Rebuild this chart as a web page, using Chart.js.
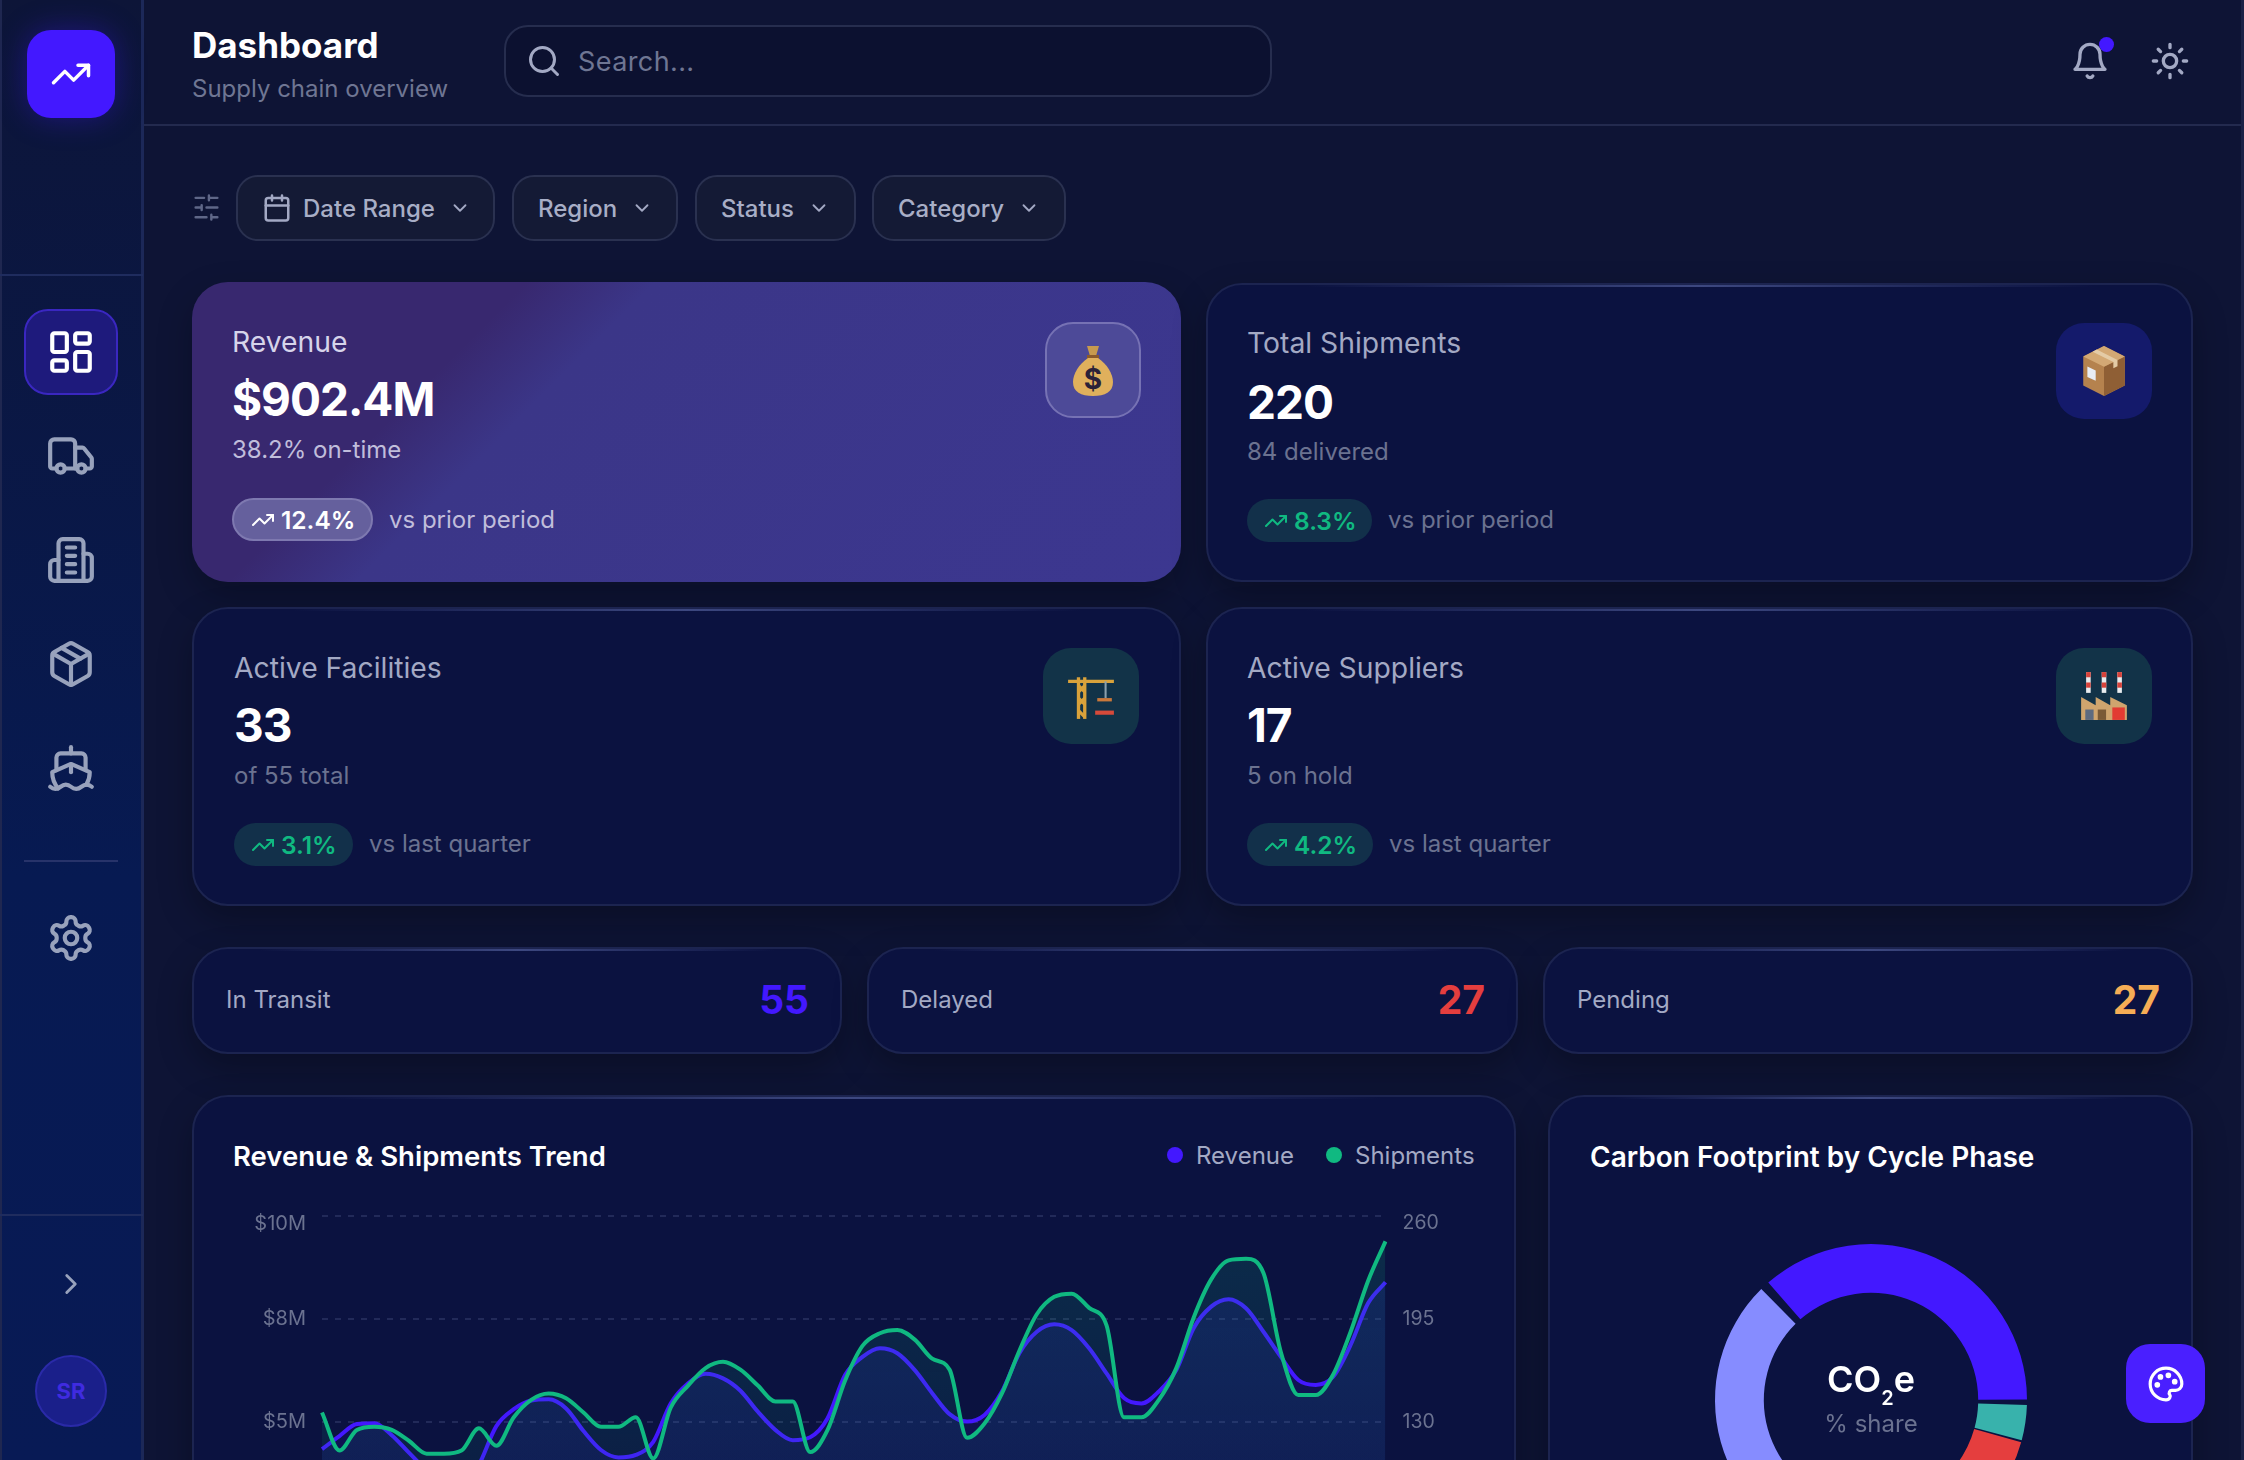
<!DOCTYPE html>
<html>
<head>
<meta charset="utf-8">
<title>Dashboard</title>
<script src="https://cdn.jsdelivr.net/npm/chart.js@4"></script>
<style>
html, body { margin: 0; width: 2244px; height: 1460px; overflow: hidden; background: #0e1435; font-family: Inter, sans-serif; }
.abs { position: absolute; box-sizing: border-box; }
.t { position: absolute; line-height: 1; white-space: nowrap; transform: translateY(-50%); }
.card { position: absolute; box-sizing: border-box; background: #0b1240; border: 2px solid #1c2450; border-radius: 36px; box-shadow: 0 14px 34px rgba(0,0,0,.28); overflow: hidden; }
.card::before { content: ""; position: absolute; left: 10%; right: 10%; top: -1px; height: 3px; background: linear-gradient(90deg, transparent, #3d4880, transparent); }
.label { font-size: 28.3px; color: #a3a9c4; font-weight: 400; }
.value { font-size: 46px; color: #fff; font-weight: 700; letter-spacing: -1px; }
.sub { font-size: 24px; color: #6b7290; }
.vs { font-size: 24px; color: #6b7290; }
.pill { position: absolute; box-sizing: border-box; height: 43px; border-radius: 22px; background: #12304a; color: #10b981; font-size: 24.5px; font-weight: 600; display: flex; align-items: center; padding-left: 17px; gap: 6px; }
.iconbox { position: absolute; box-sizing: border-box; width: 96px; height: 96px; border-radius: 28px; display: flex; align-items: center; justify-content: center; }
.filter { position: absolute; box-sizing: border-box; top: 175px; height: 66px; background: #141a35; border: 2px solid #2a3150; border-radius: 22px; color: #a8aec6; font-size: 24px; font-weight: 500; display: flex; align-items: center; }
.stat { font-size: 24px; color: #a3a9c4; }
.num { font-size: 39px; font-weight: 700; }
.ctitle { font-size: 28px; color: #fff; font-weight: 600; }
.leg { font-size: 24px; color: #a3a9c4; }
.ic { position: absolute; display: block; fill: none; stroke-linecap: round; stroke-linejoin: round; stroke-width: 2; }
.inl { display: block; fill: none; stroke-linecap: round; stroke-linejoin: round; stroke-width: 2; flex: none; }
</style>
</head>
<body>
<!-- sidebar -->
<div class="abs" style="left:0;top:0;width:144px;height:1460px;background:linear-gradient(180deg,#0d1538 0%,#071a52 60%,#081a55 100%);border-right:3px solid #1c2858;border-left:2px solid #1f2750"></div>
<div class="abs" style="left:0;top:274px;width:143px;height:2px;background:#1f2c5e"></div>
<div class="abs" style="left:0;top:1214px;width:143px;height:2px;background:#1f2c5e"></div>
<div class="abs" style="left:24px;top:860px;width:94px;height:2px;background:#27336a"></div>
<div class="abs" style="left:27px;top:30px;width:88px;height:88px;border-radius:24px;background:#4318ff;box-shadow:0 0 30px rgba(67,24,255,.35)"></div>
<svg class="ic" data-i="trend" style="left:50px;top:53px;width:42px;height:42px;stroke:#fff"></svg>
<div class="abs" style="left:24px;top:309px;width:94px;height:86px;border-radius:24px;background:#1e1a7c;border:2px solid #3a27c0"></div>
<svg class="ic" data-i="grid" style="left:46px;top:327px;width:50px;height:50px;stroke:#fff"></svg>
<svg class="ic" data-i="truck" style="left:46px;top:431px;width:50px;height:50px;stroke:#98a2bc"></svg>
<svg class="ic" data-i="building" style="left:46px;top:535px;width:50px;height:50px;stroke:#98a2bc"></svg>
<svg class="ic" data-i="package" style="left:46px;top:639px;width:50px;height:50px;stroke:#98a2bc"></svg>
<svg class="ic" data-i="ship" style="left:46px;top:743px;width:50px;height:50px;stroke:#98a2bc"></svg>
<svg class="ic" data-i="gear" style="left:46px;top:913px;width:50px;height:50px;stroke:#98a2bc"></svg>
<svg class="ic" data-i="right" style="left:54px;top:1267px;width:34px;height:34px;stroke:#98a2bc"></svg>
<div class="abs" style="left:35px;top:1355px;width:72px;height:72px;border-radius:50%;background:#1a1f8a;border:2px solid #2a2aa8;color:#3f2be0;font-size:22px;font-weight:700;display:flex;align-items:center;justify-content:center">SR</div>

<!-- header -->
<div class="abs" style="left:144px;top:124px;width:2100px;height:2px;background:#232a4e"></div>
<div class="abs" style="left:2241px;top:0;width:3px;height:1460px;background:#1b2145"></div>
<div class="t" style="left:192px;top:45px;font-size:35px;font-weight:700;color:#fff">Dashboard</div>
<div class="t" style="left:192px;top:89px;font-size:24px;color:#6f7693">Supply chain overview</div>
<div class="abs" style="left:504px;top:25px;width:768px;height:72px;border-radius:24px;background:#0c1130;border:2px solid #262d4e"></div>
<svg class="ic" data-i="search" style="left:526px;top:43px;width:36px;height:36px;stroke:#a3a9c4"></svg>
<div class="t" style="left:578px;top:61px;font-size:27px;color:#6f7693;letter-spacing:.4px">Search...</div>
<svg class="ic" data-i="bell" style="left:2070px;top:41px;width:40px;height:40px;stroke:#a3a9c4"></svg>
<div class="abs" style="left:2099px;top:37px;width:15px;height:15px;border-radius:50%;background:#4318ff"></div>
<svg class="ic" data-i="sun" style="left:2150px;top:41px;width:40px;height:40px;stroke:#a3a9c4"></svg>

<!-- filters -->
<svg class="ic" data-i="sliders" style="left:192px;top:193px;width:29px;height:29px;stroke:#5f6788"></svg>
<div class="filter" style="left:236px;width:259px"><svg class="inl" data-i="cal" style="width:30px;height:30px;margin:0 11px 0 24px;stroke:#a3a9c4"></svg>Date Range<svg class="inl" data-i="down" style="width:22px;height:22px;margin-left:14px;stroke:#a3a9c4"></svg></div>
<div class="filter" style="left:512px;width:166px;padding-left:24px">Region<svg class="inl" data-i="down" style="width:22px;height:22px;margin-left:14px;stroke:#a3a9c4"></svg></div>
<div class="filter" style="left:695px;width:161px;padding-left:24px">Status<svg class="inl" data-i="down" style="width:22px;height:22px;margin-left:14px;stroke:#a3a9c4"></svg></div>
<div class="filter" style="left:872px;width:194px;padding-left:24px">Category<svg class="inl" data-i="down" style="width:22px;height:22px;margin-left:14px;stroke:#a3a9c4"></svg></div>

<!-- revenue card -->
<div class="abs" style="left:192px;top:282px;width:989px;height:300px;border-radius:36px;overflow:hidden;background:linear-gradient(135deg,#38286f 0%,#38286f 26%,#3b3688 36%,#3c3790 100%);box-shadow:0 14px 34px rgba(0,0,0,.25)"></div>
<div class="t" style="left:232px;top:342px;font-size:28.3px;color:#d6d4ea">Revenue</div>
<div class="t" style="left:232px;top:399px;font-size:46px;font-weight:700;color:#fff;letter-spacing:-1px">$902.4M</div>
<div class="t" style="left:232px;top:450px;font-size:24px;color:#c0bddb">38.2% on-time</div>
<div class="pill" style="left:232px;top:498px;width:141px;background:#65609d;border:2px solid #7e79b0;color:#fff"><svg class="inl" data-i="trend" style="width:24px;height:24px;stroke:#fff"></svg>12.4%</div>
<div class="t" style="left:389px;top:520px;font-size:24px;color:#c0bddb">vs prior period</div>
<div class="iconbox" style="left:1045px;top:322px;background:#4d4a98;border:2px solid #7672b4">
<svg width="48" height="56" viewBox="0 0 24 28"><path d="M9 2h6l-1.5 5h-3z" fill="#c79a4e"/><rect x="9" y="6.5" width="6" height="2" fill="#8a5a2b"/><path d="M9.5 8C5 11 2 16 2 20c0 5 4 7 10 7s10-2 10-7c0-4-3-9-7.5-12z" fill="#e0b05c"/><text x="12" y="23.5" font-size="14" font-weight="700" text-anchor="middle" fill="#2b2238" font-family="Inter">$</text></svg></div>

<!-- shipments card -->
<div class="card" style="left:1206px;top:283px;width:987px;height:299px"></div>
<div class="t label" style="left:1247px;top:343px">Total Shipments</div>
<div class="t value" style="left:1247px;top:402px">220</div>
<div class="t sub" style="left:1247px;top:452px">84 delivered</div>
<div class="pill" style="left:1247px;top:499px;width:125px"><svg class="inl" data-i="trend" style="width:24px;height:24px;stroke:#10b981"></svg>8.3%</div>
<div class="t vs" style="left:1388px;top:520px">vs prior period</div>
<div class="iconbox" style="left:2056px;top:323px;background:#141a6b">
<svg width="50" height="54" viewBox="0 0 24 26"><path d="M12 1l10 5v14l-10 5-10-5V6z" fill="#b5824e"/><path d="M12 11v14l10-5V6z" fill="#8f5f35"/><path d="M2 6l10 5 10-5-10-5z" fill="#d3a874"/><path d="M6.5 3.7l10 5v3l2-1v-3l-10-5z" fill="#e4cba6"/><rect x="4" y="11" width="4" height="5" fill="#e8edf5" transform="skewY(25) translate(0,-2)"/></svg></div>

<!-- facilities card -->
<div class="card" style="left:192px;top:607px;width:989px;height:299px"></div>
<div class="t label" style="left:234px;top:668px">Active Facilities</div>
<div class="t value" style="left:234px;top:725px">33</div>
<div class="t sub" style="left:234px;top:776px">of 55 total</div>
<div class="pill" style="left:234px;top:823px;width:119px"><svg class="inl" data-i="trend" style="width:24px;height:24px;stroke:#10b981"></svg>3.1%</div>
<div class="t vs" style="left:369px;top:844px">vs last quarter</div>
<div class="iconbox" style="left:1043px;top:648px;background:#123348">
<svg width="50" height="50" viewBox="0 0 24 24"><g stroke="#d9a23b" stroke-width="1.6" fill="none"><path d="M6 23V3"/><path d="M9 23V3"/><path d="M6 7l3 3M9 7l-3 3M6 13l3 3M9 13l-3 3M6 19l3 3"/><path d="M1 5h22"/></g><path d="M14 19h9v2h-9z" fill="#d64a3a"/><path d="M19 5v8" stroke="#8ba0ad" stroke-width="1"/><rect x="15" y="13" width="7" height="1.6" fill="#c9783b"/></svg></div>

<!-- suppliers card -->
<div class="card" style="left:1206px;top:607px;width:987px;height:299px"></div>
<div class="t label" style="left:1247px;top:668px">Active Suppliers</div>
<div class="t value" style="left:1247px;top:725px">17</div>
<div class="t sub" style="left:1247px;top:776px">5 on hold</div>
<div class="pill" style="left:1247px;top:823px;width:126px"><svg class="inl" data-i="trend" style="width:24px;height:24px;stroke:#10b981"></svg>4.2%</div>
<div class="t vs" style="left:1389px;top:844px">vs last quarter</div>
<div class="iconbox" style="left:2056px;top:648px;background:#123348">
<svg width="50" height="52" viewBox="0 0 24 25"><g fill="#e8ecef"><rect x="3.4" y="1" width="2.2" height="10"/><rect x="10.9" y="1" width="2.2" height="10"/><rect x="18.4" y="1" width="2.2" height="10"/></g><g fill="#d8433b"><rect x="3.4" y="1" width="2.2" height="2.5"/><rect x="10.9" y="1" width="2.2" height="2.5"/><rect x="18.4" y="1" width="2.2" height="2.5"/><rect x="3.4" y="6" width="2.2" height="2.5"/><rect x="10.9" y="6" width="2.2" height="2.5"/><rect x="18.4" y="6" width="2.2" height="2.5"/></g><path d="M1 24V13l7 4v-4l7 4v-4l8 4v7z" fill="#cfa56e"/><rect x="16" y="18" width="6" height="6" fill="#e23b32"/><rect x="3" y="19" width="4" height="5" fill="#5d6b80"/><rect x="9" y="19" width="4" height="5" fill="#7a5a36"/></svg></div>

<!-- status row -->
<div class="card" style="left:192px;top:947px;width:650px;height:107px"></div>
<div class="t stat" style="left:226px;top:1000px">In Transit</div>
<div class="t num" style="right:1435px;top:999px;color:#4318ff">55</div>
<div class="card" style="left:867px;top:947px;width:651px;height:107px"></div>
<div class="t stat" style="left:901px;top:1000px">Delayed</div>
<div class="t num" style="right:759px;top:999px;color:#e53e3e">27</div>
<div class="card" style="left:1543px;top:947px;width:650px;height:107px"></div>
<div class="t stat" style="left:1577px;top:1000px">Pending</div>
<div class="t num" style="right:84px;top:999px;color:#f6ad55">27</div>

<!-- trend card -->
<div class="card" style="left:192px;top:1095px;width:1324px;height:640px"></div>
<div class="t ctitle" style="left:233px;top:1157px;font-size:27.5px">Revenue &amp; Shipments Trend</div>
<div class="abs" style="left:1167px;top:1147px;width:16px;height:16px;border-radius:50%;background:#4318ff"></div>
<div class="t leg" style="left:1196px;top:1156px">Revenue</div>
<div class="abs" style="left:1326px;top:1147px;width:16px;height:16px;border-radius:50%;background:#10b981"></div>
<div class="t leg" style="left:1355px;top:1156px">Shipments</div>
<canvas id="trendChart" class="abs" style="left:232px;top:1185px" width="1228" height="483"></canvas>

<!-- carbon card -->
<div class="card" style="left:1548px;top:1095px;width:645px;height:640px"></div>
<div class="t ctitle" style="left:1590px;top:1157px">Carbon Footprint by Cycle Phase</div>
<canvas id="carbonChart" class="abs" style="left:1671px;top:1200px" width="400" height="400"></canvas>
<div class="t" style="left:1871px;top:1379px;transform:translate(-50%,-50%);font-size:36px;font-weight:600;color:#fff">CO<span style="font-size:20px;position:relative;top:13px">2</span>e</div>
<div class="t" style="left:1871px;top:1424px;transform:translate(-50%,-50%);font-size:24px;color:#6b7290">% share</div>

<!-- palette button -->
<div class="abs" style="left:2126px;top:1344px;width:79px;height:79px;border-radius:24px;background:#4a1fff"></div>
<svg class="ic" data-i="palette" style="left:2147px;top:1365px;width:38px;height:38px;stroke:#fff"></svg>

<script>
// chart data
const revenueM = [4.34, 4.66, 4.95, 4.97, 4.68, 4.25, 3.83, 3.54, 3.35, 3.96, 4.90, 5.31, 5.52, 5.55, 5.33, 4.78,
    4.32, 4.14, 4.20, 4.52, 5.45, 5.94, 6.17, 6.06, 5.76, 5.25, 4.81, 4.56, 4.63, 5.09, 6.14, 6.58,
    6.79, 6.67, 6.26, 5.70, 5.19, 5.01, 5.17, 5.74, 6.67, 7.19, 7.37, 7.23, 6.79, 6.18, 5.58, 5.45,
    5.74, 6.26, 7.28, 7.80, 7.98, 7.76, 7.19, 6.58, 6.02, 5.90, 6.10, 6.87, 7.88, 8.39];
const shipments = [136, 112, 125, 127, 125, 118, 110, 110, 112, 126, 115, 133, 144, 148, 145, 136,
    127, 127, 133, 107, 139, 153, 164, 168, 163, 153, 143, 143, 111, 125, 156, 178,
    186, 188, 182, 170, 163, 120, 129, 148, 175, 198, 209, 211, 202, 191, 133, 133,
    144, 164, 196, 220, 232, 233, 224, 174, 147, 147, 160, 187, 219, 244];
const periods = revenueM.map((_, i) => "P" + (i + 1));

const carbonPhases = ["Production", "Logistics", "Disposal", "Packaging", "Raw Materials"];
const carbonShare = [37.4, 3.75, 12, 12, 34.85];
const carbonColors = ["#4318ff", "#38b2ac", "#e53e3e", "#f6ad55", "#868cff"];

// lucide style icon paths
const icons = {
    trend: '<polyline points="22 7 13.5 15.5 8.5 10.5 2 17"/><polyline points="16 7 22 7 22 13"/>',
    grid: '<rect x="3" y="3" width="7" height="9" rx="1"/><rect x="14" y="3" width="7" height="5" rx="1"/><rect x="14" y="12" width="7" height="9" rx="1"/><rect x="3" y="16" width="7" height="5" rx="1"/>',
    truck: '<path d="M14 18V6a2 2 0 0 0-2-2H4a2 2 0 0 0-2 2v11a1 1 0 0 0 1 1h2"/><path d="M15 18H9"/><path d="M19 18h2a1 1 0 0 0 1-1v-3.65a1 1 0 0 0-.22-.624l-3.48-4.35A1 1 0 0 0 17.52 8H14"/><circle cx="17" cy="18" r="2"/><circle cx="7" cy="18" r="2"/>',
    building: '<path d="M6 22V4a2 2 0 0 1 2-2h8a2 2 0 0 1 2 2v18z"/><path d="M6 12H4a2 2 0 0 0-2 2v6a2 2 0 0 0 2 2h2"/><path d="M18 9h2a2 2 0 0 1 2 2v9a2 2 0 0 1-2 2h-2"/><path d="M10 6h4M10 10h4M10 14h4M10 18h4"/>',
    package: '<path d="M11 21.73a2 2 0 0 0 2 0l7-4A2 2 0 0 0 21 16V8a2 2 0 0 0-1-1.73l-7-4a2 2 0 0 0-2 0l-7 4A2 2 0 0 0 3 8v8a2 2 0 0 0 1 1.73z"/><path d="M12 22V12"/><path d="m3.3 7 8.7 5 8.7-5"/><path d="m7.5 4.27 9 5.15"/>',
    ship: '<path d="M12 10.189V14"/><path d="M12 2v3"/><path d="M19 13V7a2 2 0 0 0-2-2H7a2 2 0 0 0-2 2v6"/><path d="M19.38 20A11.6 11.6 0 0 0 21 14l-8.188-3.639a2 2 0 0 0-1.624 0L3 14a11.6 11.6 0 0 0 2.81 7.76"/><path d="M2 21c.6.5 1.2 1 2.5 1 2.5 0 2.5-2 5-2 1.3 0 1.9.5 2.5 1s1.2 1 2.5 1c2.5 0 2.5-2 5-2 1.3 0 1.9.5 2.5 1"/>',
    gear: '<path d="M12.22 2h-.44a2 2 0 0 0-2 2v.18a2 2 0 0 1-1 1.73l-.43.25a2 2 0 0 1-2 0l-.15-.08a2 2 0 0 0-2.73.73l-.22.38a2 2 0 0 0 .73 2.73l.15.1a2 2 0 0 1 1 1.72v.51a2 2 0 0 1-1 1.74l-.15.09a2 2 0 0 0-.73 2.73l.22.38a2 2 0 0 0 2.73.73l.15-.08a2 2 0 0 1 2 0l.43.25a2 2 0 0 1 1 1.73V20a2 2 0 0 0 2 2h.44a2 2 0 0 0 2-2v-.18a2 2 0 0 1 1-1.73l.43-.25a2 2 0 0 1 2 0l.15.08a2 2 0 0 0 2.73-.73l.22-.39a2 2 0 0 0-.73-2.73l-.15-.08a2 2 0 0 1-1-1.74v-.5a2 2 0 0 1 1-1.74l.15-.09a2 2 0 0 0 .73-2.73l-.22-.38a2 2 0 0 0-2.73-.73l-.15.08a2 2 0 0 1-2 0l-.43-.25a2 2 0 0 1-1-1.73V4a2 2 0 0 0-2-2z"/><circle cx="12" cy="12" r="3"/>',
    right: '<path d="m9 18 6-6-6-6"/>',
    down: '<path d="m6 9 6 6 6-6"/>',
    search: '<circle cx="11" cy="11" r="8"/><path d="m21 21-4.3-4.3"/>',
    bell: '<path d="M6 8a6 6 0 0 1 12 0c0 7 3 9 3 9H3s3-2 3-9"/><path d="M10.3 21a1.94 1.94 0 0 0 3.4 0"/>',
    sun: '<circle cx="12" cy="12" r="4"/><path d="M12 2v2M12 20v2M4.93 4.93l1.41 1.41M17.66 17.66l1.41 1.41M2 12h2M20 12h2M6.34 17.66l-1.41 1.41M19.07 4.93l-1.41 1.41"/>',
    sliders: '<path d="M21 4h-7M10 4H3M21 12h-9M8 12H3M21 20h-5M12 20H3M14 2v4M8 10v4M16 18v4"/>',
    cal: '<path d="M8 2v4M16 2v4"/><rect x="3" y="4" width="18" height="18" rx="2"/><path d="M3 10h18"/>',
    palette: '<path d="M12 22a10 10 0 1 1 10-10c0 2.5-2 4-4 4h-2.3a1.7 1.7 0 0 0-1.3 2.8c.6.8.2 3.2-2.4 3.2z"/><circle cx="13.5" cy="6.5" r=".8" fill="#fff"/><circle cx="17.5" cy="10.5" r=".8" fill="#fff"/><circle cx="8.5" cy="7.5" r=".8" fill="#fff"/><circle cx="6.5" cy="12.5" r=".8" fill="#fff"/>'
};
document.querySelectorAll("svg[data-i]").forEach(el => {
    el.setAttribute("viewBox", "0 0 24 24");
    el.innerHTML = icons[el.dataset.i];
});

document.addEventListener("DOMContentLoaded", () => {
    const ctx = document.getElementById("trendChart").getContext("2d");
    const blueFill = ctx.createLinearGradient(0, 31, 0, 443);
    blueFill.addColorStop(0, "rgba(67, 24, 255, 0.12)");
    blueFill.addColorStop(1, "rgba(67, 24, 255, 0.08)");
    const greenFill = ctx.createLinearGradient(0, 31, 0, 443);
    greenFill.addColorStop(0, "rgba(16, 185, 129, 0.16)");
    greenFill.addColorStop(1, "rgba(16, 185, 129, 0.03)");

    new Chart(ctx, {
        type: "line",
        data: {
            labels: periods,
            datasets: [
                {
                    label: "Revenue", data: revenueM, yAxisID: "y", order: 2,
                    borderColor: "#4318ff", borderWidth: 4, backgroundColor: blueFill, fill: "origin",
                    pointRadius: 0, cubicInterpolationMode: "monotone"
                },
                {
                    label: "Shipments", data: shipments, yAxisID: "y1", order: 1,
                    borderColor: "#10b981", borderWidth: 4, backgroundColor: greenFill, fill: "origin",
                    pointRadius: 0, cubicInterpolationMode: "monotone"
                }
            ]
        },
        options: {
            responsive: false,
            animation: false,
            layout: { padding: { top: 20, bottom: 40 } },
            plugins: { legend: { display: false }, tooltip: { enabled: false } },
            scales: {
                x: { display: false },
                y: {
                    position: "left", min: 0, max: 10,
                    afterFit: scale => { scale.width = 90; },
                    border: { display: false, dash: [6, 7] },
                    grid: { color: "rgba(130, 140, 190, 0.2)", lineWidth: 2, drawTicks: false },
                    ticks: {
                        stepSize: 2.5, padding: 16, color: "#6b7290",
                        font: { family: "Inter", size: 20, lineHeight: 0.75 },
                        // the top label sits just under its grid line
                        callback: v => v === 10 ? ["", "$10M"] : "$" + Math.round(v) + "M"
                    }
                },
                y1: {
                    position: "right", min: 0, max: 260,
                    afterFit: scale => { scale.width = 74.5; },
                    border: { display: false },
                    grid: { display: false },
                    ticks: {
                        stepSize: 65, padding: 9, color: "#6b7290",
                        font: { family: "Inter", size: 19.5, lineHeight: 0.75 },
                        callback: v => v === 260 ? ["", "260"] : String(v)
                    }
                }
            }
        }
    });

    new Chart(document.getElementById("carbonChart").getContext("2d"), {
        type: "doughnut",
        data: {
            labels: carbonPhases,
            datasets: [{ data: carbonShare, backgroundColor: carbonColors, borderWidth: 0, spacing: 7 }]
        },
        options: {
            responsive: false,
            animation: false,
            rotation: -43,
            radius: 152.5,
            cutout: "68%",
            plugins: { legend: { display: false }, tooltip: { enabled: false } }
        }
    });
});
</script>
</body>
</html>
